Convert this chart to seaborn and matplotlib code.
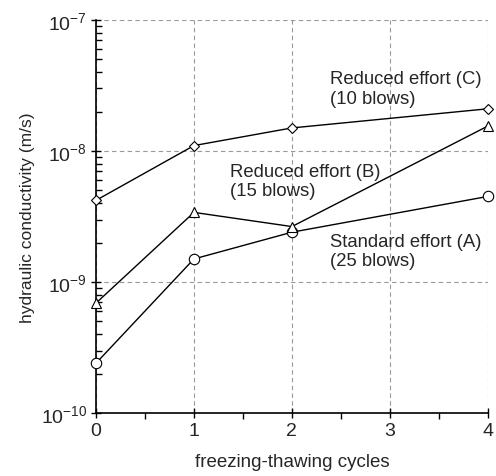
import numpy as np
import pandas as pd
import matplotlib
matplotlib.use("Agg")
import matplotlib.pyplot as plt
import seaborn as sns
from matplotlib.ticker import FixedLocator, LogLocator, FuncFormatter, NullFormatter

# --- dados ---
ciclos = [0, 1, 2, 4]
k_padrao_a = [2.4e-10, 1.5e-9, 2.4e-9, 4.5e-9]      # Standard effort (A)
k_reduzido_b = [6.9e-10, 3.4e-9, 2.65e-9, 1.55e-8]  # Reduced effort (B)
k_reduzido_c = [4.2e-9, 1.1e-8, 1.5e-8, 2.1e-8]     # Reduced effort (C)

rotulos = ["Standard effort (A)\n(25 blows)",
           "Reduced effort (B)\n(15 blows)",
           "Reduced effort (C)\n(10 blows)"]
pos_rotulos_x = [2.39, 1.37, 2.39]
pos_rotulos_y = [1.73e-9, 5.9e-9, 3.0e-8]

sns.set_style("white")
plt.rcParams["font.family"] = ["Liberation Sans", "DejaVu Sans"]
plt.rcParams["mathtext.default"] = "regular"
plt.rcParams["axes.unicode_minus"] = False

fig = plt.figure(figsize=(4.96, 4.77), dpi=100)
ax = fig.add_axes([0.1935, 0.132, 0.79, 0.824])

series = [(k_padrao_a, "o", 7.5), (k_reduzido_b, "^", 6.5), (k_reduzido_c, "D", 5)]
for valores, marcador, tam in series:
    sns.lineplot(x=ciclos, y=valores, ax=ax, color="black", linewidth=1.0,
                 marker=marcador, markersize=tam, markerfacecolor="white",
                 markeredgecolor="black", markeredgewidth=0.8, clip_on=False,
                 zorder=3)

ax.set_yscale("log")
ax.set_xlim(0, 4)
ax.set_ylim(1e-10, 1e-7)

ax.xaxis.set_major_locator(FixedLocator([0, 1, 2, 3, 4]))
ax.xaxis.set_minor_locator(FixedLocator([0.5, 1.5, 2.5, 3.5]))
ax.yaxis.set_major_locator(FixedLocator([1e-10, 1e-9, 1e-8, 1e-7]))
ax.yaxis.set_minor_locator(LogLocator(base=10, subs=np.arange(2, 10)))
ax.yaxis.set_minor_formatter(NullFormatter())
ax.yaxis.set_major_formatter(FuncFormatter(lambda v, p: r"$10^{%d}$" % round(np.log10(v))))

ax.grid(True, which="major", linestyle=(0, (4, 3)), color="#999999", linewidth=0.8)
for lado in ["top", "right"]:
    ax.spines[lado].set_visible(False)
for lado in ["left", "bottom"]:
    ax.spines[lado].set_color("black")
    ax.spines[lado].set_linewidth(1.2)

ax.tick_params(axis="both", which="major", direction="inout", length=7, width=1,
               color="black", labelsize=14, pad=3)
ax.tick_params(axis="y", which="minor", direction="in", length=4, width=1, color="black")
ax.tick_params(axis="x", which="minor", direction="out", length=4, width=1, color="black")
ax.tick_params(left=True, bottom=True, which="both")

ax.set_xlabel("freezing-thawing cycles", fontsize=13.5, labelpad=10)
ax.set_ylabel("hydraulic conductivity (m/s)", fontsize=12.5, labelpad=4)

for texto, tx, ty in zip(rotulos, pos_rotulos_x, pos_rotulos_y):
    ax.text(tx, ty, texto, fontsize=13.3, ha="left", va="center", linespacing=1.2)

fig.savefig("out.png", dpi=100)
